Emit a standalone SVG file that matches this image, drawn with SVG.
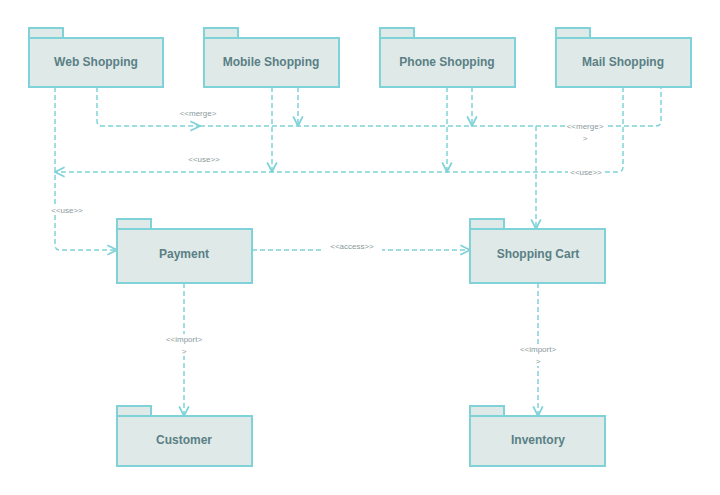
<svg xmlns="http://www.w3.org/2000/svg" width="720" height="495" viewBox="0 0 720 495">
<style>
.p{fill:#dfe9e7;stroke:#7fd3d8;stroke-width:2}
.t{font-family:"Liberation Sans",Arial,sans-serif;font-size:12px;font-weight:bold;fill:#5a7f85;text-anchor:middle}
.l{font-family:"Liberation Sans",Arial,sans-serif;font-size:8px;fill:#8a9a9c;text-anchor:middle}
.c{fill:none;stroke:#7fd3d8;stroke-width:1.5;stroke-dasharray:5 3}
</style>
<defs><marker id="a" viewBox="0 0 10 10" refX="9" refY="5" markerWidth="8" markerHeight="8" orient="auto"><path d="M1,1 L9,5 L1,9" fill="none" stroke="#7fd3d8" stroke-width="1.5"/></marker></defs>
<rect width="720" height="495" fill="#fff"/>
<g id="web"><rect class="p" x="29" y="28" width="34" height="10"/><rect class="p" x="29" y="38" width="134" height="49"/><text class="t" x="96" y="66">Web Shopping</text></g>
<g id="mobile"><rect class="p" x="204" y="28" width="34" height="10"/><rect class="p" x="204" y="38" width="135" height="49"/><text class="t" x="271" y="66">Mobile Shopping</text></g>
<g id="phone"><rect class="p" x="380" y="28" width="34" height="10"/><rect class="p" x="380" y="38" width="135" height="49"/><text class="t" x="447" y="66">Phone Shopping</text></g>
<g id="mail"><rect class="p" x="556" y="28" width="34" height="10"/><rect class="p" x="556" y="38" width="135" height="49"/><text class="t" x="623" y="66">Mail Shopping</text></g>
<g id="payment"><rect class="p" x="117" y="219" width="34" height="10"/><rect class="p" x="117" y="229" width="135" height="54"/><text class="t" x="184" y="258">Payment</text></g>
<g id="cart"><rect class="p" x="470" y="219" width="34" height="10"/><rect class="p" x="470" y="229" width="135" height="54"/><text class="t" x="538" y="258">Shopping Cart</text></g>
<g id="customer"><rect class="p" x="117" y="406" width="34" height="10"/><rect class="p" x="117" y="416" width="135" height="50"/><text class="t" x="184" y="444">Customer</text></g>
<g id="inventory"><rect class="p" x="470" y="406" width="34" height="10"/><rect class="p" x="470" y="416" width="135" height="50"/><text class="t" x="538" y="444">Inventory</text></g>
<g id="connectors">
<path class="c" d="M97,87 V121 Q97,126 102,126 H200" marker-end="url(#a)"/>
<path class="c" d="M200,126 H656 Q661,126 661,121 V87"/>
<path class="c" d="M298,87 V126" marker-end="url(#a)"/>
<path class="c" d="M472,87 V126" marker-end="url(#a)"/>
<path class="c" d="M536,126 V229" marker-end="url(#a)"/>
<path class="c" d="M623,87 V167 Q623,172 618,172 H55" marker-end="url(#a)"/>
<path class="c" d="M272,87 V172" marker-end="url(#a)"/>
<path class="c" d="M447,87 V172" marker-end="url(#a)"/>
<path class="c" d="M55,87 V245 Q55,250 60,250 H117" marker-end="url(#a)"/>
<path class="c" d="M252,250 H470" marker-end="url(#a)"/>
<path class="c" d="M184,283 V416" marker-end="url(#a)"/>
<path class="c" d="M538,283 V416" marker-end="url(#a)"/>
<rect x="566" y="120" width="40" height="10" fill="#fff"/><rect x="568" y="166" width="36" height="10" fill="#fff"/>
<rect x="322" y="244" width="60" height="10" fill="#fff"/>
<rect x="160" y="334" width="48" height="22" fill="#fff"/><rect x="514" y="344" width="48" height="22" fill="#fff"/>
<rect x="46" y="205" width="40" height="10" fill="#fff"/>
<text class="l" x="198" y="116">&lt;&lt;merge&gt;</text>
<text class="l" x="585" y="129">&lt;&lt;merge&gt;</text><text class="l" x="585" y="141">&gt;</text>
<text class="l" x="204" y="162">&lt;&lt;use&gt;&gt;</text>
<text class="l" x="586" y="175">&lt;&lt;use&gt;&gt;</text>
<text class="l" x="67" y="213">&lt;&lt;use&gt;&gt;</text>
<text class="l" x="352" y="249">&lt;&lt;access&gt;&gt;</text>
<text class="l" x="184" y="342">&lt;&lt;import&gt;</text><text class="l" x="184" y="354">&gt;</text>
<text class="l" x="538" y="352">&lt;&lt;import&gt;</text><text class="l" x="538" y="364">&gt;</text>
</g>
</svg>
